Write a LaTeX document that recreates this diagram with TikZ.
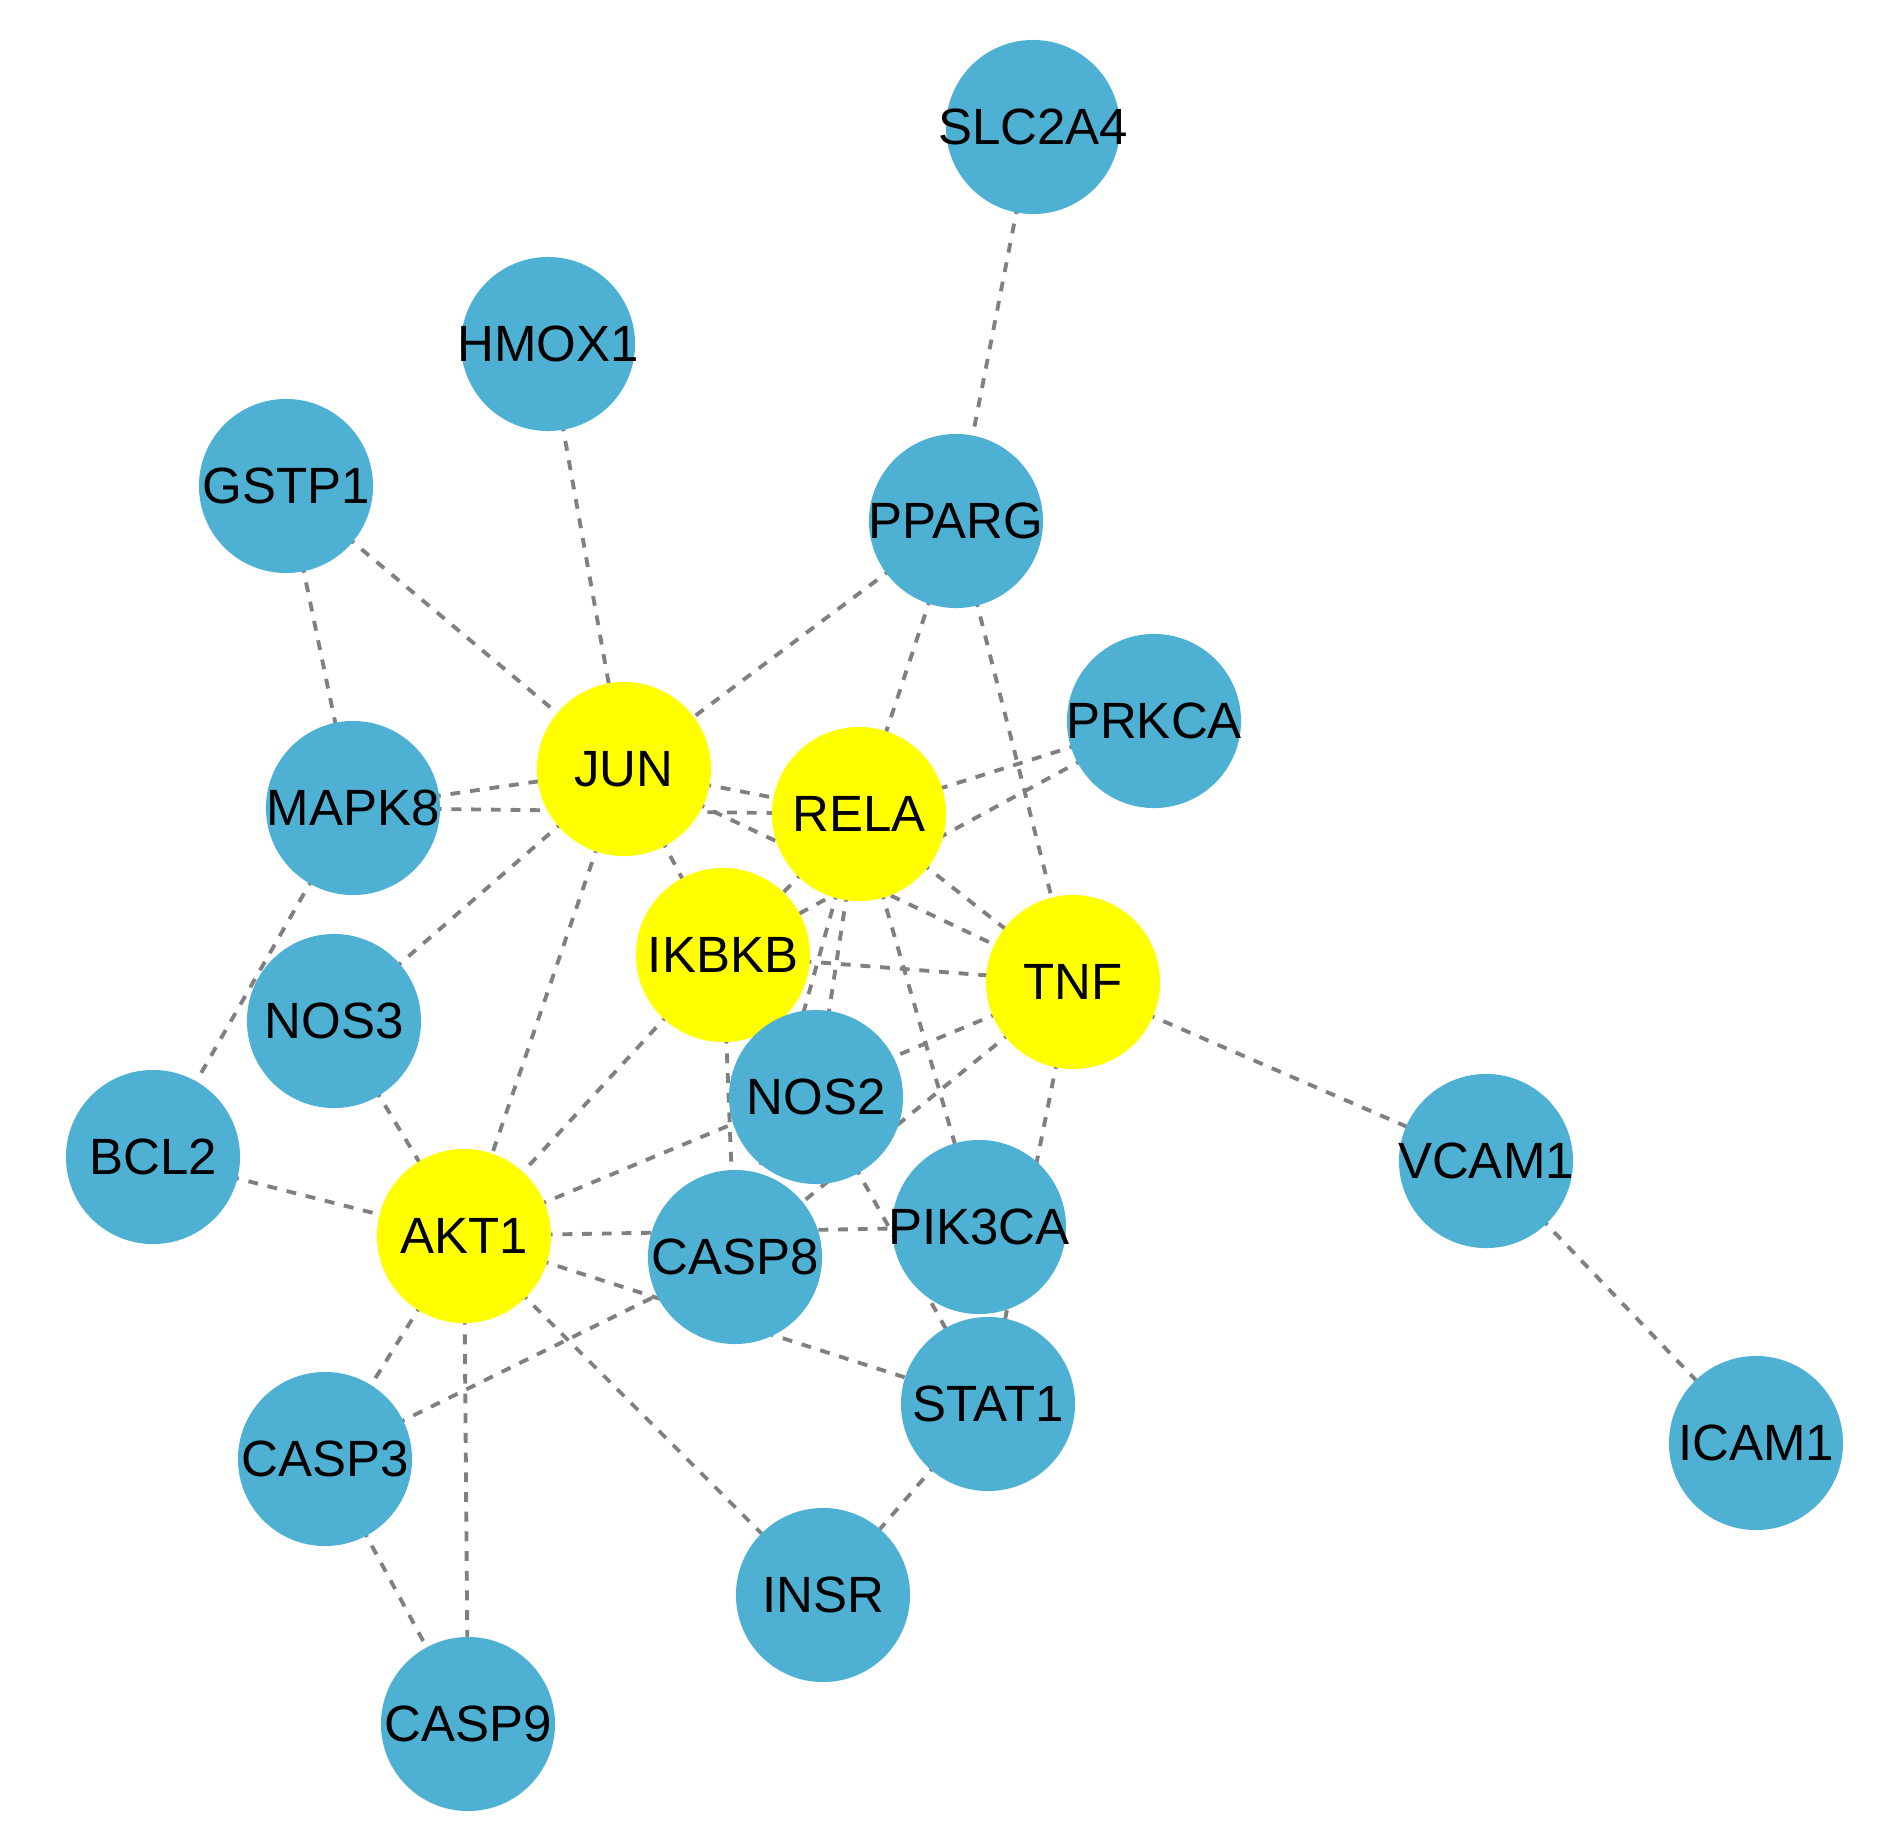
\documentclass[tikz,border=0pt]{standalone}
\usepackage{fontspec}
\setmainfont{Liberation Sans}
\usetikzlibrary{backgrounds}
\definecolor{geneblue}{RGB}{78,176,210}
\definecolor{hubyellow}{RGB}{255,255,0}
\definecolor{edgegray}{RGB}{128,128,128}
\tikzstyle{gene} = [circle, minimum size=1.74cm, inner sep=-5mm, text centered, fill=geneblue, font=\fontsize{14.5}{17}\selectfont]
\tikzstyle{hub} = [gene, fill=hubyellow]
\tikzstyle{link} = [draw=edgegray, line width=1.1pt, dash pattern=on 2.8pt off 2.8pt]
\begin{document}
\begin{tikzpicture}[x=0.01cm, y=-0.01cm]
		\useasboundingbox (0,0) rectangle (1890,1839);
		\node (slc) [gene] at (1033,127) {SLC2A4};
		\node (hmox) [gene] at (548,344) {HMOX1};
		\node (gstp) [gene] at (286,486) {GSTP1};
		\node (pparg) [gene] at (956,521) {PPARG};
		\node (prkca) [gene] at (1154,721) {PRKCA};
		\node (jun) [hub] at (624,769) {JUN};
		\node (rela) [hub] at (859,814) {RELA};
		\node (mapk) [gene] at (353,808) {MAPK8};
		\node (ikbkb) [hub] at (723,955) {IKBKB};
		\node (tnf) [hub] at (1073,982) {TNF};
		\node (nos3) [gene] at (334,1021) {NOS3};
		\node (nos2) [gene] at (816,1097) {NOS2};
		\node (bcl) [gene] at (153,1157) {BCL2};
		\node (vcam) [gene] at (1486,1161) {VCAM1};
		\node (akt) [hub] at (464,1236) {AKT1};
		\node (casp8) [gene] at (735,1257) {CASP8};
		\node (pik) [gene] at (979,1227) {PIK3CA};
		\node (stat) [gene] at (988,1404) {STAT1};
		\node (icam) [gene] at (1756,1443) {ICAM1};
		\node (casp3) [gene] at (325,1459) {CASP3};
		\node (insr) [gene] at (823,1595) {INSR};
		\node (casp9) [gene] at (468,1724) {CASP9};
		\begin{pgfonlayer}{background}
		\draw [link] (slc.center) -- (pparg.center);
		\draw [link] (hmox.center) -- (jun.center);
		\draw [link] (gstp.center) -- (jun.center);
		\draw [link] (gstp.center) -- (mapk.center);
		\draw [link] (pparg.center) -- (jun.center);
		\draw [link] (pparg.center) -- (rela.center);
		\draw [link] (pparg.center) -- (tnf.center);
		\draw [link] (prkca.center) -- (rela.center);
		\draw [link] (prkca.center) -- (ikbkb.center);
		\draw [link] (mapk.center) -- (jun.center);
		\draw [link] (mapk.center) -- (rela.center);
		\draw [link] (mapk.center) -- (bcl.center);
		\draw [link] (jun.center) -- (rela.center);
		\draw [link] (jun.center) -- (tnf.center);
		\draw [link] (jun.center) -- (ikbkb.center);
		\draw [link] (jun.center) -- (nos3.center);
		\draw [link] (jun.center) -- (akt.center);
		\draw [link] (rela.center) -- (tnf.center);
		\draw [link] (rela.center) -- (ikbkb.center);
		\draw [link] (rela.center) -- (nos2.center);
		\draw [link] (rela.center) -- (casp8.center);
		\draw [link] (rela.center) -- (pik.center);
		\draw [link] (ikbkb.center) -- (tnf.center);
		\draw [link] (ikbkb.center) -- (casp8.center);
		\draw [link] (ikbkb.center) -- (akt.center);
		\draw [link] (tnf.center) -- (akt.center);
		\draw [link] (tnf.center) -- (casp8.center);
		\draw [link] (tnf.center) -- (stat.center);
		\draw [link] (tnf.center) -- (vcam.center);
		\draw [link] (vcam.center) -- (icam.center);
		\draw [link] (nos3.center) -- (akt.center);
		\draw [link] (bcl.center) -- (akt.center);
		\draw [link] (nos2.center) -- (stat.center);
		\draw [link] (akt.center) -- (pik.center);
		\draw [link] (akt.center) -- (stat.center);
		\draw [link] (akt.center) -- (insr.center);
		\draw [link] (akt.center) -- (casp3.center);
		\draw [link] (akt.center) -- (casp9.center);
		\draw [link] (casp3.center) -- (casp8.center);
		\draw [link] (casp3.center) -- (casp9.center);
		\draw [link] (stat.center) -- (insr.center);
		\end{pgfonlayer}
	\end{tikzpicture}
\end{document}
